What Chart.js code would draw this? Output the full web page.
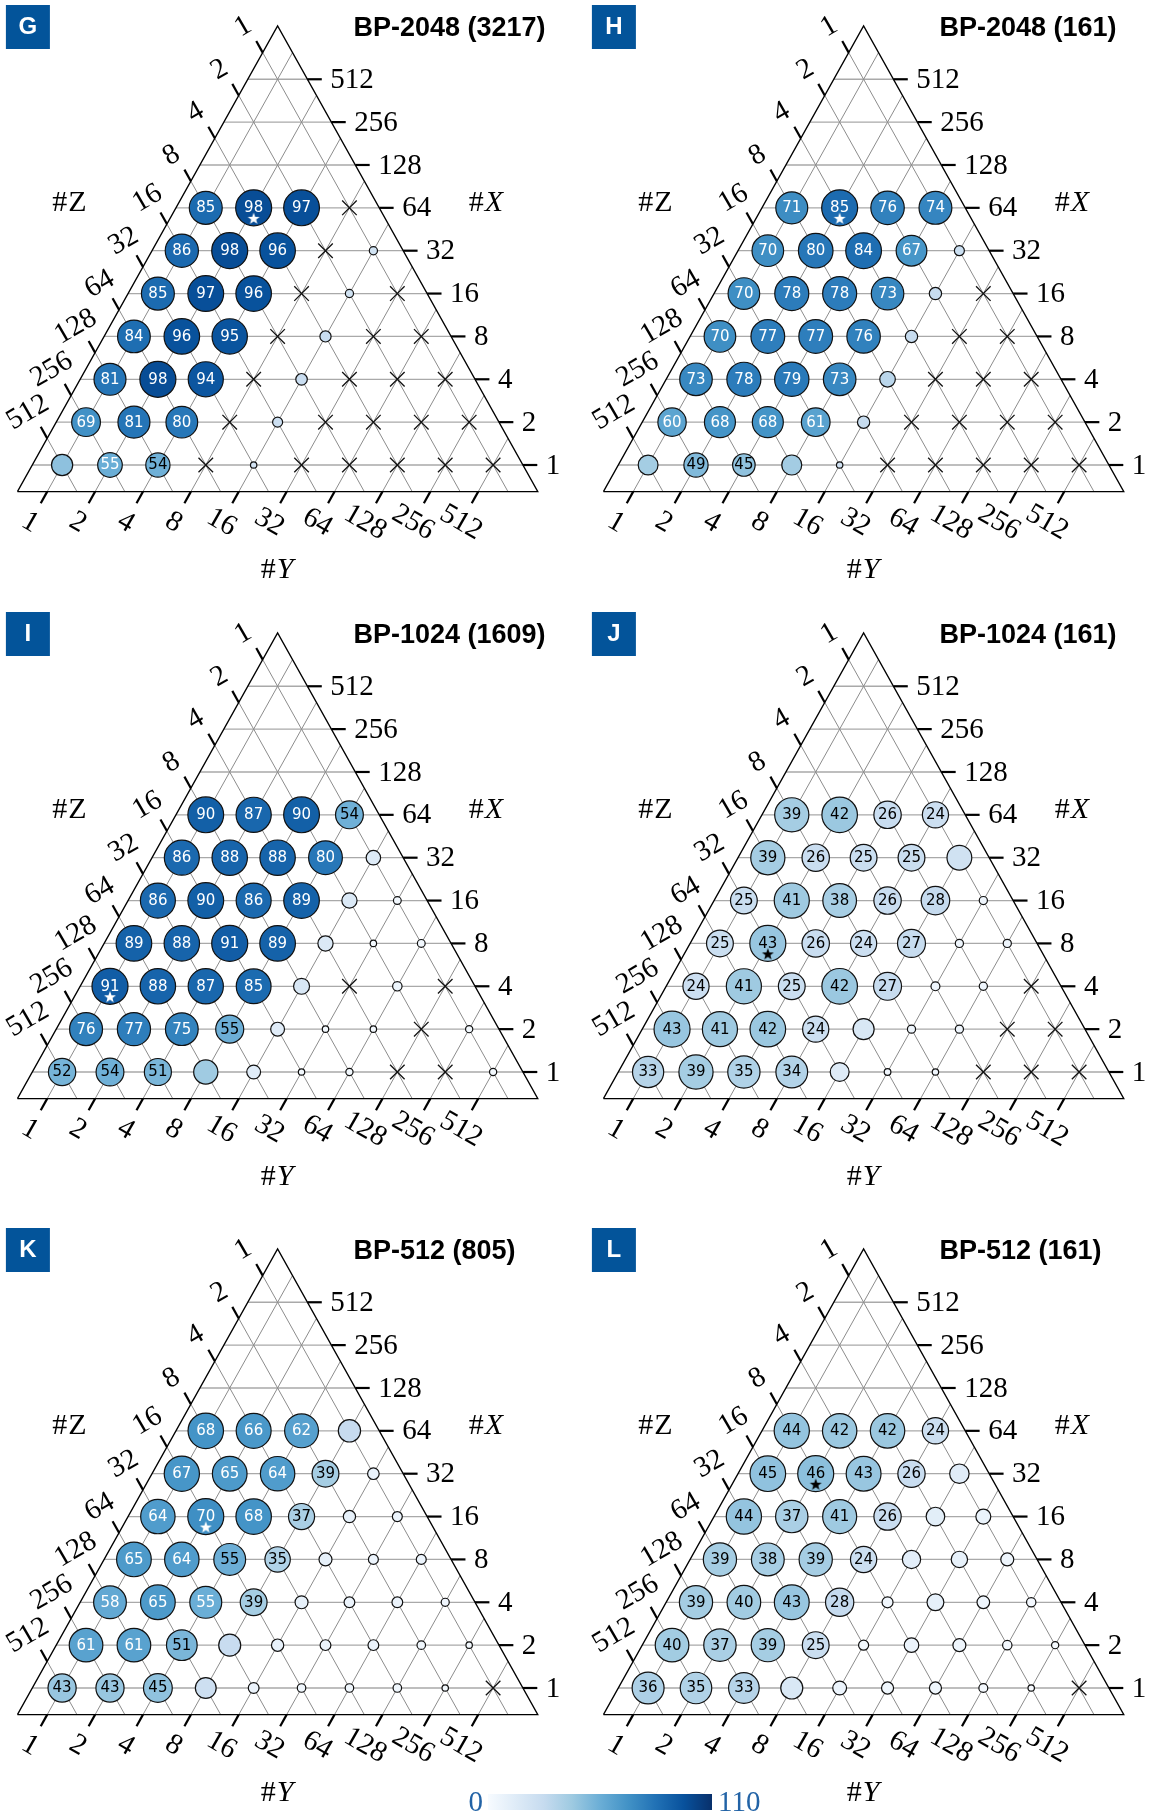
<!DOCTYPE html>
<html>
<head>
<meta charset="utf-8">
<script src="https://cdn.jsdelivr.net/npm/chart.js@4.4.1/dist/chart.umd.min.js"></script>
<style>
  html, body { margin: 0; padding: 0; background: #fff; overflow: hidden; width: 1155px; height: 1818px; }
  #page { position: absolute; left: 0; top: 0; width: 1155px; height: 1818px; }
  #page canvas { position: absolute; }
</style>
</head>
<body>
<div id="page"></div>
<script>
// ---------------- data ----------------
const panelIds = ['G', 'H', 'I', 'J', 'K', 'L'];
const titles = ['BP-2048 (3217)', 'BP-2048 (161)', 'BP-1024 (1609)', 'BP-1024 (161)', 'BP-512 (805)', 'BP-512 (161)'];
const tickLabels = ['1', '2', '4', '8', '16', '32', '64', '128', '256', '512'];
const colorbarRange = [0, 110];

// Accuracy on the log2 lattice: one row per #X (1, 2, 4, ... bottom row first),
// columns are #Y = 1, 2, 4, ... ; #Z fills the rest. null = run failed (drawn as ×).
const accG = [
  [45.5, 55.2, 54, null, 20.3, null, null, null, null, null],
  [69, 81, 80, null, 24, null, null, null, null],
  [81, 98, 94, null, 26, null, null, null],
  [84, 96, 95, null, 25.5, null, null],
  [85, 97, 96, null, 21.9, null],
  [86, 98, 96, null, 21.9],
  [85, 98, 97, null]
];
const accH = [
  [39.2, 49, 45, 39.5, 21.4, null, null, null, null, null],
  [60, 68, 68, 61, 27, null, null, null, null],
  [73, 78, 79, 73, 31.6, null, null, null],
  [70, 77, 77, 76, 27, null, null],
  [70, 78, 78, 73, 27, null],
  [70, 80, 84, 67, 24.4],
  [71, 85, 76, 74]
];
const accI = [
  [52, 54, 51, 40.6, 12.7, 2.1, 2.9, null, null, 2.9],
  [76, 77, 75, 54.8, 12.7, 2.1, 2.1, null, 2.9],
  [91, 88, 87, 85, 17.3, null, 5.5, null],
  [89, 88, 91, 89, 15.6, 2.1, 3.5],
  [86, 90, 86, 89, 15.6, 3.5],
  [86, 88, 88, 80, 14],
  [90, 87, 90, 54]
];
const accJ = [
  [33, 39, 35, 34, 13.8, 4.1, 4.0, null, null, null],
  [43, 41, 42, 24, 16.5, 4.8, 4.8, null, null],
  [24, 41, 25, 42, 27, 5.2, 4.8, null],
  [25, 43, 26, 24, 27, 4.8, 4.8],
  [25, 41, 38, 26, 28, 4.8],
  [39, 26, 25, 25, 21.8],
  [39, 42, 26, 24]
];
const accK = [
  [43, 43, 45, 23.7, 6.7, 4.4, 4.4, 4.4, 2.7, null],
  [61, 61, 51, 26.4, 8.6, 6.7, 6.7, 4.4, 2.7],
  [58, 65, 55.2, 39, 9.5, 6.7, 6.7, 4],
  [65, 64, 54.8, 35, 9.5, 5.8, 5.8],
  [64, 70, 68, 37, 8.6, 5.8],
  [67, 65, 64, 39, 7.7],
  [68, 66, 62, 27.1]
];
const accL = [
  [36, 35, 33, 16.6, 5.9, 4.3, 4.3, 1.9, 0.5, null],
  [40, 37, 39, 25, 2.7, 6.7, 5.1, 2.2, 0.9],
  [39, 40, 43, 28, 3.4, 9.3, 4.8, 2.2],
  [39, 38, 39, 24, 11.1, 8.7, 5.1],
  [44, 37, 41, 26, 11.6, 7.1],
  [45, 46, 43, 26, 12.7],
  [44, 42, 42, 24]
];

// first and last column whose value is printed, per row
const labelledG = [[1, 2], [0, 2], [0, 2], [0, 2], [0, 2], [0, 2], [0, 2]];
const labelledH = [[1, 2], [0, 3], [0, 3], [0, 3], [0, 3], [0, 3], [0, 3]];
const labelledI = [[0, 2], [0, 3], [0, 3], [0, 3], [0, 3], [0, 3], [0, 3]];
const labelledJ = [[0, 3], [0, 3], [0, 4], [0, 4], [0, 4], [0, 3], [0, 3]];
const labelledK = [[0, 2], [0, 2], [0, 3], [0, 3], [0, 3], [0, 3], [0, 2]];
const labelledL = [[0, 2], [0, 3], [0, 3], [0, 3], [0, 3], [0, 3], [0, 3]];

// [row, column] of the best configuration (star)
const bestG = [6, 1];
const bestH = [6, 1];
const bestI = [2, 0];
const bestJ = [3, 1];
const bestK = [4, 1];
const bestL = [5, 1];

const panels = [
  { acc: accG, labelled: labelledG, best: bestG },
  { acc: accH, labelled: labelledH, best: bestH },
  { acc: accI, labelled: labelledI, best: bestI },
  { acc: accJ, labelled: labelledJ, best: bestJ },
  { acc: accK, labelled: labelledK, best: bestK },
  { acc: accL, labelled: labelledL, best: bestL }
].map((p, i) => Object.assign(p, { id: panelIds[i], title: titles[i] }));

// ---------------- layout ----------------
const N = 9;                   // log2 of the largest count on each axis
const PAD = 0.622;             // frame margin around the lattice, in lattice steps
const STEP = 47.89;            // px per lattice step along a row
const ROWPX = 42.86;           // px between rows
const OX = 62.1, OY = 465;     // pixel of lattice node (#X=1, #Y=1)
const CH = 600;
const TICK = 0.27, YLAB = 0.72, ZLAB = 0.6, XTICK = 14.4 / STEP, XGAP = 8.5;
const RMIN = 3.2, RMAX = 18;   // marker radius range, px
const SLOTS = [[0, 0, 586], [586, 0, 569], [0, 607, 586], [586, 607, 569], [0, 1223, 586], [586, 1223, 569]];

// ternary (a = log2 #X, b = log2 #Y) -> plane coordinates
function T(a, b) { return { x: b + a / 2, y: a }; }

const BLUES = [[247,251,255],[222,235,247],[198,219,239],[158,202,225],[107,174,214],
               [66,146,198],[33,113,181],[8,81,156],[8,48,107]];
function blues(t) {
  t = Math.max(0, Math.min(1, t));
  const f = t * 8, i = Math.min(7, Math.floor(f)), w = f - i;
  const a = BLUES[i], b = BLUES[i + 1];
  const c = a.map((v, k) => Math.round(v + (b[k] - v) * w));
  return `rgb(${c[0]},${c[1]},${c[2]})`;
}

function starImage(color) {
  const c = document.createElement('canvas');
  c.width = 28; c.height = 44;
  const g = c.getContext('2d');
  const cx = 14, cy = 22 + 11, R = 6.3, r = 2.6;
  g.beginPath();
  for (let i = 0; i < 10; i++) {
    const ang = -Math.PI / 2 + i * Math.PI / 5;
    const rad = i % 2 ? r : R;
    g.lineTo(cx + rad * Math.cos(ang), cy + rad * Math.sin(ang));
  }
  g.closePath();
  g.fillStyle = color;
  g.fill();
  return c;
}
const starLight = starImage('#ffffff');
const starDark = starImage('#000000');

function lineDs(pts, color, width, order) {
  return { data: pts, showLine: true, borderColor: color, borderWidth: width,
           pointRadius: 0, fill: false, order };
}

function buildDatasets(p) {
  const ds = [];
  // lattice lines
  for (let k = 0; k <= N; k++) {
    ds.push(lineDs([T(k, -PAD), T(k, N + PAD - k)], '#a9a9a9', 1.3, 9));
    ds.push(lineDs([T(-PAD, k), T(N + PAD - k, k)], '#8c8c8c', 1, 9));
    ds.push(lineDs([T(-PAD, N - k + PAD), T(N - k + PAD, -PAD)], '#8c8c8c', 1, 9));
  }
  // frame
  ds.push(lineDs([T(-PAD, -PAD), T(-PAD, N + 2 * PAD), T(N + 2 * PAD, -PAD), T(-PAD, -PAD)], '#000', 1.3, 8));
  // axis ticks
  for (let k = 0; k <= N; k++) {
    const e = T(k, N + PAD - k);
    ds.push(lineDs([e, { x: e.x + XTICK, y: e.y }], '#000', 2.2, 8));
    ds.push(lineDs([T(-PAD, k), T(-PAD - TICK, k)], '#000', 2.2, 8));
    ds.push(lineDs([T(N - k + PAD, -PAD), T(N - k + PAD + TICK, -PAD - TICK)], '#000', 2.2, 8));
  }
  // markers: area grows linearly between the panel's lowest and highest value
  const vals = p.acc.flat().filter(v => v !== null);
  const vmax = Math.max(...vals), vmin = Math.min(...vals);
  const circles = [], crosses = [];
  p.acc.forEach((row, a) => row.forEach((v, b) => {
    const pt = T(a, b);
    if (v === null) { crosses.push(pt); return; }
    const [l0, l1] = p.labelled[a];
    const rad = Math.sqrt(RMIN * RMIN + (RMAX * RMAX - RMIN * RMIN) * (v - vmin) / (vmax - vmin));
    circles.push(Object.assign(pt, { v, lab: b >= l0 && b <= l1, rad }));
  }));
  ds.push({ data: crosses, pointStyle: 'crossRot', pointRadius: 10.3, pointBorderColor: '#111',
            pointBorderWidth: 1.3, showLine: false, order: 3 });
  ds.push({ role: 'circles', data: circles, pointStyle: 'circle',
            pointRadius: circles.map(c => c.rad),
            pointBackgroundColor: circles.map(c => blues(c.v / colorbarRange[1])),
            pointBorderColor: '#111', pointBorderWidth: 1.2, showLine: false, order: 2 });
  const bv = p.acc[p.best[0]][p.best[1]];
  ds.push({ data: [T(p.best[0], p.best[1])], pointStyle: bv >= 55 ? starLight : starDark,
            pointRadius: 14, showLine: false, order: 1 });
  return ds;
}

function drawName(ctx, x, y, letter, italic) {
  const up = '30px "Liberation Serif"', it = 'italic 30px "Liberation Serif"';
  ctx.font = up;
  const w1 = ctx.measureText('#').width;
  ctx.font = italic ? it : up;
  const w2 = ctx.measureText(letter).width;
  const x0 = x - (w1 + w2) / 2;
  ctx.textAlign = 'left';
  ctx.font = up; ctx.fillText('#', x0, y);
  ctx.font = italic ? it : up; ctx.fillText(letter, x0 + w1 + 1, y);
}

const panelText = {
  id: 'panelText',
  afterDatasetDraw(chart, args) {
    const ds = chart.data.datasets[args.index];
    if (ds.role !== 'circles') return;
    const ctx = chart.ctx;
    ctx.save();
    ctx.font = '15px "DejaVu Sans"';
    ctx.textAlign = 'center';
    ctx.textBaseline = 'middle';
    args.meta.data.forEach((el, j) => {
      const c = ds.data[j];
      if (!c.lab) return;
      ctx.fillStyle = c.v >= 55 ? '#ffffff' : '#000000';
      ctx.fillText(String(Math.round(c.v)), el.x, el.y + 0.5);
    });
    ctx.restore();
  },
  afterDraw(chart, args, opts) {
    const ctx = chart.ctx, sx = chart.scales.x, sy = chart.scales.y;
    const px = q => [sx.getPixelForValue(q.x), sy.getPixelForValue(q.y)];
    ctx.save();
    ctx.fillStyle = '#000';
    ctx.font = '29px "Liberation Serif"';
    ctx.textBaseline = 'middle';
    ctx.textAlign = 'left';
    for (let k = 0; k <= N; k++) {
      const e = T(k, N + PAD - k);
      const [x, y] = px({ x: e.x + XTICK, y: e.y });
      ctx.fillText(tickLabels[k], x + XGAP, y + 1);
    }
    ctx.textAlign = 'center';
    for (let k = 0; k <= N; k++) {
      const [x, y] = px(T(-PAD - YLAB, k));
      ctx.save(); ctx.translate(x, y); ctx.rotate(Math.PI / 6);
      ctx.fillText(tickLabels[k], 0, 0); ctx.restore();
      const [x2, y2] = px(T(N - k + PAD + ZLAB, -PAD - ZLAB));
      ctx.save(); ctx.translate(x2 - 5, y2); ctx.rotate(-Math.PI / 6);
      ctx.fillText(tickLabels[k], 0, 0); ctx.restore();
    }
    // axis names
    let q = px({ x: 0.14, y: 6.106 }); drawName(ctx, q[0], q[1], 'Z', false);
    q = px({ x: 8.837, y: 6.113 }); drawName(ctx, q[0], q[1], 'X', true);
    q = px({ x: 4.477, y: -2.447 }); drawName(ctx, q[0], q[1], 'Y', true);
    // panel badge and title
    ctx.fillStyle = '#03549a';
    ctx.fillRect(5.9, 5, 44, 44);
    ctx.fillStyle = '#fff';
    ctx.font = 'bold 24px "Liberation Sans"';
    ctx.textAlign = 'center';
    ctx.fillText(opts.id, 27.9, 27.5);
    ctx.fillStyle = '#000';
    ctx.font = 'bold 27px "Liberation Sans"';
    ctx.textAlign = 'left';
    ctx.fillText(opts.title, 353.5, 28.8);
    ctx.restore();
  }
};

const page = document.getElementById('page');
panels.forEach((p, i) => {
  const [left, top, cw] = SLOTS[i];
  const cv = document.createElement('canvas');
  cv.width = cw; cv.height = Math.min(CH, 1818 - top);
  cv.style.left = left + 'px';
  cv.style.top = top + 'px';
  page.appendChild(cv);
  new Chart(cv, {
    type: 'scatter',
    data: { datasets: buildDatasets(p) },
    options: {
      responsive: false, animation: false, events: [],
      layout: { padding: 0, autoPadding: false },
      scales: {
        x: { type: 'linear', display: false, min: -OX / STEP, max: (cw - OX) / STEP },
        y: { type: 'linear', display: false, min: (OY - cv.height) / ROWPX, max: OY / ROWPX }
      },
      plugins: { legend: { display: false }, tooltip: { enabled: false },
                 panelText: { id: p.id, title: p.title } }
    },
    plugins: [panelText]
  });
});

// colour bar
const colorbar = {
  id: 'colorbar',
  afterDraw(chart) {
    const ctx = chart.ctx, sx = chart.scales.x;
    const x0 = sx.getPixelForValue(colorbarRange[0]), x1 = sx.getPixelForValue(colorbarRange[1]);
    const g = ctx.createLinearGradient(x0, 0, x1, 0);
    BLUES.forEach((c, i) => g.addColorStop(i / 8, `rgb(${c[0]},${c[1]},${c[2]})`));
    ctx.save();
    ctx.fillStyle = g;
    ctx.fillRect(x0, 14, x1 - x0, 16);
    ctx.fillStyle = '#2263a6';
    ctx.font = '29px "Liberation Serif"';
    ctx.textBaseline = 'middle';
    ctx.textAlign = 'right';
    ctx.fillText(String(colorbarRange[0]), x0 - 5, 23);
    ctx.textAlign = 'left';
    ctx.fillText(String(colorbarRange[1]), x1 + 6, 23);
    ctx.restore();
  }
};
const cb = document.createElement('canvas');
cb.width = 360; cb.height = 38;
cb.style.left = '420px'; cb.style.top = '1780px';
page.appendChild(cb);
// value 0 sits at x = 488 and value 110 at x = 712 on the page
new Chart(cb, {
  type: 'scatter',
  data: { datasets: [] },
  options: {
    responsive: false, animation: false, events: [],
    layout: { padding: 0, autoPadding: false },
    scales: {
      x: { type: 'linear', display: false, min: -68 * 110 / 224, max: 110 + 68 * 110 / 224 },
      y: { type: 'linear', display: false, min: 0, max: 1 }
    },
    plugins: { legend: { display: false }, tooltip: { enabled: false } }
  },
  plugins: [colorbar]
});
</script>
</body>
</html>
